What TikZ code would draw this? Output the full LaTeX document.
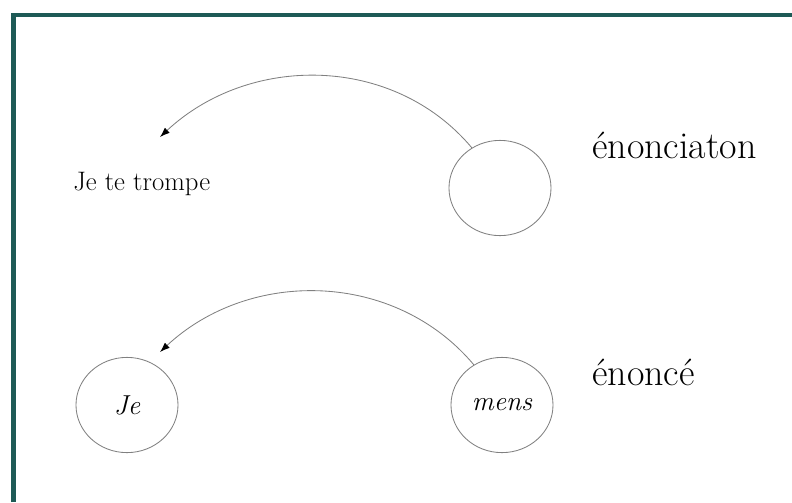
\documentclass[tikz,border=0pt]{standalone}
\usetikzlibrary{shapes.geometric,arrows.meta}
\definecolor{cadre}{RGB}{30,90,86}
\tikzset{
  bulle/.style={draw=gray, line width=0.6pt, ellipse, minimum width=2.55cm, minimum height=2.38cm, inner sep=0pt, font=\fontsize{19.5}{22}\selectfont\itshape},
  etiquette/.style={anchor=base west, inner sep=0pt, font=\fontsize{27}{32}\selectfont},
  fleche/.style={draw=gray, line width=0.6pt, -{Latex[black,length=7pt,width=5pt]}}
}
\begin{document}
\begin{tikzpicture}[x=0.025cm, y=-0.025cm]
    \useasboundingbox (0,0) rectangle (792,502);
    \draw[cadre, line width=0.1cm] (13.5,502) |- (792,14.5);

    % enonciation
    \node[bulle] (haut) at (500,188) {};
    \node[anchor=base west, inner sep=0pt, font=\fontsize{19}{22}\selectfont] (phrase) at (73,190) {Je te trompe};
    \node[etiquette] (enonciation) at (592,158) {énonciaton};
    \coordinate (pointe1) at (160,137);
    \draw[fleche] (haut.125) to[out=130, in=43] (pointe1);

    % enonce
    \node[bulle] (je) at (127,405) {Je};
    \node[bulle] (mens) at (502,405) {mens};
    \node[etiquette] (enonce) at (592,385) {énoncé};
    \coordinate (pointe2) at (160,352);
    \draw[fleche] (mens.125) to[out=130, in=43] (pointe2);
\end{tikzpicture}
\end{document}
